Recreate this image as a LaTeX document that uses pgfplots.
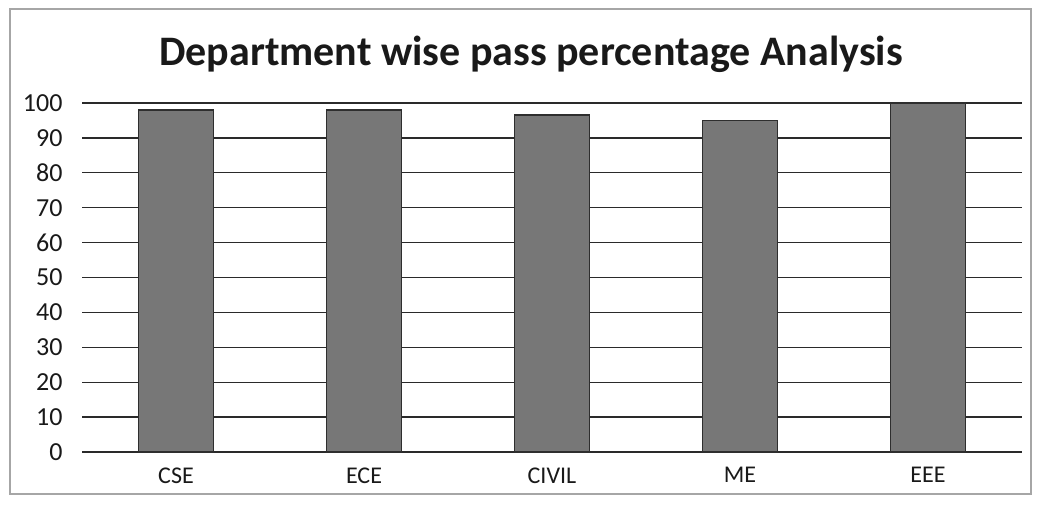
\documentclass[border=0pt]{standalone}
\usepackage{pgfplots}
\pgfplotsset{compat=1.18}
\usepackage{fontspec}
\setmainfont{Carlito}
\definecolor{barfill}{HTML}{777777}
\definecolor{baredge}{HTML}{2E2E2E}
\definecolor{gridc}{HTML}{2A2A2A}
\begin{document}
\begin{tikzpicture}[x=1pt,y=1pt]
\useasboundingbox (0,0) rectangle (1038,504);
\draw[gray!70, line width=1.2pt] (10,10) rectangle (1031,495);
\node[font=\fontsize{42}{46}\selectfont\bfseries, text=black!90] at (531,450) {Department wise pass percentage Analysis};
\begin{axis}[
  at={(82pt,52pt)}, anchor=south west,
  width=940pt, height=349pt, scale only axis,
  xmin=-0.5, xmax=4.5, ymin=0, ymax=100,
  xtick={0,1,2,3,4},
  xticklabels={CSE,ECE,CIVIL,ME,EEE},
  ytick={0,10,...,100},
  axis line style={draw=none},
  tick style={draw=none},
  ymajorgrids,
  grid style={gridc, line width=1.3pt},
  /pgf/number format/assume math mode=true,
  yticklabel style={font=\fontsize{26}{30}\selectfont, text=black!90, xshift=-16pt},
  xticklabel style={font=\fontsize{24}{28}\selectfont, text=black!90, yshift=-12pt},
  clip=false,
]
\addplot[ybar, bar width=0.4, fill=barfill, draw=baredge, line width=1.5pt]
  coordinates {(0,98) (1,98) (2,96.5) (3,95) (4,100)};
\end{axis}
\end{tikzpicture}
\end{document}
